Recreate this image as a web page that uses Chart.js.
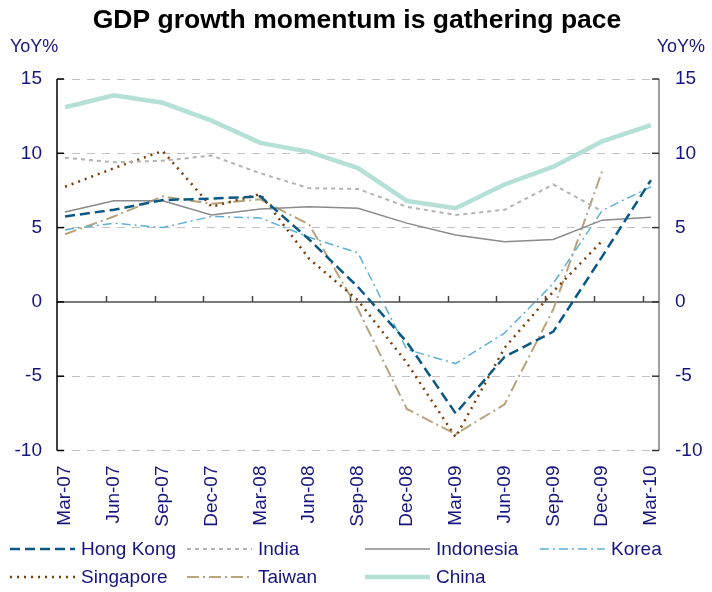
<!DOCTYPE html>
<html>
<head>
<meta charset="utf-8">
<script src="https://cdn.jsdelivr.net/npm/chart.js@4.4.1/dist/chart.umd.min.js"></script>
<style>
  body { margin: 0; background: #fff; }
  #wrap { width: 712px; height: 592px; }
</style>
</head>
<body>
<div id="wrap"><canvas id="grafico" width="712" height="592"></canvas></div>
<script>
const trimestres = ["Mar-07", "Jun-07", "Sep-07", "Dec-07", "Mar-08", "Jun-08", "Sep-08",
  "Dec-08", "Mar-09", "Jun-09", "Sep-09", "Dec-09", "Mar-10"];

const hongKong  = [5.75, 6.2, 6.85, 6.95, 7.1, 4.2, 1.0, -2.7, -7.5, -3.7, -2.0, 3.05, 8.2];
const india     = [9.7, 9.4, 9.5, 9.85, 8.65, 7.65, 7.6, 6.4, 5.85, 6.2, 7.9, 6.1, null];
const indonesia = [6.05, 6.8, 6.8, 5.85, 6.25, 6.4, 6.3, 5.3, 4.5, 4.05, 4.2, 5.5, 5.7];
const korea     = [4.85, 5.3, 5.0, 5.75, 5.65, 4.35, 3.3, -3.2, -4.15, -2.1, 1.25, 6.15, 7.75];
const singapore = [7.75, 9.0, 10.15, 6.4, 7.25, 2.9, 0.1, -4.1, -9.1, -3.1, 0.7, 4.1, null];
const taiwan    = [4.55, 5.75, 7.1, 6.6, 6.9, 5.2, -0.5, -7.2, -8.9, -6.9, -0.5, 8.8, null];
const china     = [13.1, 13.9, 13.4, 12.2, 10.7, 10.1, 9.0, 6.8, 6.3, 7.9, 9.1, 10.8, 11.9];

const yTicks = [-10, -5, 0, 5, 10, 15];

const navy = "#15157f";
const fonte = "'Liberation Sans', Arial, sans-serif";

const pontos = serie => serie.map((v, i) => ({ x: i, y: v }));

function serie(label, dados, cor, largura, traco) {
  return {
    label,
    data: pontos(dados),
    borderColor: cor,
    backgroundColor: cor,
    borderWidth: largura,
    borderDash: traco,
    pointRadius: 0,
    tension: 0,
    fill: false,
    yAxisID: "y"
  };
}

// axis lines, zero line and the little tick marks
const eixos = {
  id: "eixos",
  beforeDatasetsDraw(chart) {
    const { ctx, chartArea: a, scales: { x, y } } = chart;
    const y0 = y.getPixelForValue(0);
    ctx.save();
    ctx.strokeStyle = "#7a7a7a";
    ctx.lineWidth = 2;
    ctx.beginPath(); ctx.moveTo(a.left, y0); ctx.lineTo(a.right, y0); ctx.stroke();

    ctx.strokeStyle = "#444";
    ctx.lineWidth = 1.5;
    trimestres.forEach((_, i) => {
      if (i === 0) return;
      const px = Math.round(x.getPixelForValue(i - 0.165)) + 0.5;
      ctx.beginPath(); ctx.moveTo(px, y0); ctx.lineTo(px, y0 - 6); ctx.stroke();
    });

    ctx.strokeStyle = "#000";
    ctx.lineWidth = 1.5;
    ctx.beginPath(); ctx.moveTo(a.left, a.top); ctx.lineTo(a.left, a.bottom); ctx.stroke();
    yTicks.forEach(v => {
      const py = y.getPixelForValue(v);
      ctx.beginPath(); ctx.moveTo(a.left, py); ctx.lineTo(a.left + 7, py); ctx.stroke();
    });

    ctx.strokeStyle = "#808080";
    ctx.beginPath(); ctx.moveTo(a.right, a.top); ctx.lineTo(a.right, a.bottom); ctx.stroke();
    ctx.strokeStyle = "#333";
    yTicks.forEach(v => {
      const py = y.getPixelForValue(v);
      ctx.beginPath(); ctx.moveTo(a.right - 7, py); ctx.lineTo(a.right, py); ctx.stroke();
    });
    ctx.restore();
  }
};

// title, YoY% and the two-row legend
const textos = {
  id: "textos",
  afterDraw(chart) {
    const ctx = chart.ctx;
    ctx.save();
    ctx.fillStyle = "#000";
    ctx.font = "bold 26.5px " + fonte;
    ctx.textAlign = "center";
    ctx.textBaseline = "alphabetic";
    ctx.fillText("GDP growth momentum is gathering pace", 357, 28);

    ctx.fillStyle = navy;
    ctx.font = "18px " + fonte;
    ctx.textAlign = "left";
    ctx.fillText("YoY%", 10, 52);
    ctx.textAlign = "right";
    ctx.fillText("YoY%", 705, 52);

    const colunas = [10, 187, 365, 540];
    const linhas = [549, 577];
    ctx.font = "19px " + fonte;
    ctx.textAlign = "left";
    ctx.textBaseline = "middle";
    chart.data.datasets.forEach((ds, i) => {
      const x0 = colunas[i % 4];
      const y0 = linhas[Math.floor(i / 4)];
      ctx.strokeStyle = ds.borderColor;
      ctx.lineWidth = ds.borderWidth;
      ctx.setLineDash(ds.borderDash || []);
      ctx.beginPath(); ctx.moveTo(x0, y0); ctx.lineTo(x0 + 65, y0); ctx.stroke();
      ctx.setLineDash([]);
      ctx.fillStyle = navy;
      ctx.fillText(ds.label, x0 + 71, y0 + 1);
    });
    ctx.restore();
  }
};

const ctx = document.getElementById("grafico").getContext("2d");
new Chart(ctx, {
  type: "line",
  data: {
    datasets: [
      serie("Hong Kong", hongKong, "#0a5883", 2.5, [10, 5]),
      serie("India", india, "#b3b3b3", 2, [4, 4]),
      serie("Indonesia", indonesia, "#8a8a8a", 1.5, []),
      serie("Korea", korea, "#5eb0d4", 1.5, [9, 4, 2, 4]),
      serie("Singapore", singapore, "#7a3d06", 2.5, [2, 5]),
      serie("Taiwan", taiwan, "#b8a47c", 2, [12, 4, 2, 4]),
      serie("China", china, "#b5e0d7", 4.5, [])
    ]
  },
  options: {
    responsive: false,
    animation: false,
    layout: { padding: { top: 79, left: 0, right: 0, bottom: 0 } },
    plugins: {
      legend: { display: false },
      title: { display: false },
      tooltip: { enabled: false }
    },
    scales: {
      x: {
        type: "linear",
        min: -0.165,
        max: 12.165,
        afterBuildTicks: s => { s.ticks = trimestres.map((_, i) => ({ value: i })); },
        afterFit: s => { s.height = 141.5; },
        grid: { display: false },
        border: { display: false },
        ticks: {
          autoSkip: false,
          minRotation: 90,
          maxRotation: 90,
          padding: 7,
          color: navy,
          font: { family: fonte, size: 19 },
          callback: (v, i) => trimestres[i]
        }
      },
      y: {
        position: "left",
        min: -10,
        max: 15,
        afterBuildTicks: s => { s.ticks = yTicks.map(v => ({ value: v })); },
        afterFit: s => { s.width = 57; },
        border: { display: false, dash: [8, 7] },
        grid: {
          drawTicks: false,
          lineWidth: 1,
          color: c => (c.tick && c.tick.value === 0) ? "rgba(0,0,0,0)" : "#c2c2c2"
        },
        ticks: { padding: 15, color: navy, font: { family: fonte, size: 19 } }
      },
      y2: {
        position: "right",
        min: -10,
        max: 15,
        afterBuildTicks: s => { s.ticks = yTicks.map(v => ({ value: v })); },
        afterFit: s => { s.width = 53; },
        border: { display: false },
        grid: { drawOnChartArea: false, drawTicks: false },
        ticks: { padding: 16, color: navy, font: { family: fonte, size: 19 } }
      }
    }
  },
  plugins: [eixos, textos]
});
</script>
</body>
</html>
